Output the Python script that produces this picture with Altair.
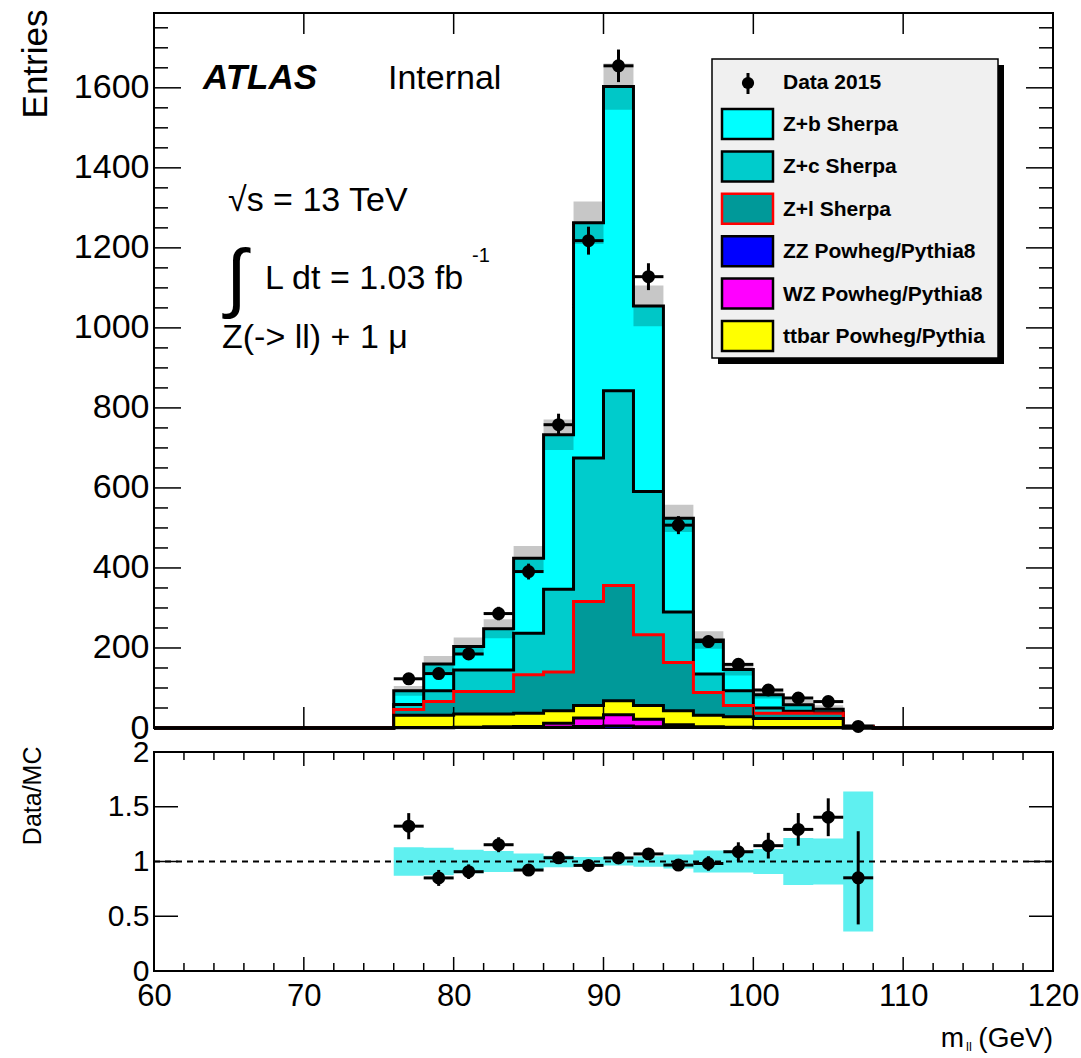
import math
import altair as alt
import pandas as pd

# ---------------- data ----------------
BIN_LO = [76, 78, 80, 82, 84, 86, 88, 90, 92, 94, 96, 98, 100, 102, 104, 106]
BIN_W = 2
ZZ    = [0.5, 0.5, 1, 1, 1.5, 2, 4, 5, 3, 2, 1, 1, 0.5, 0.5, 0.5, 0.1]
WZ    = [0.5, 0.5, 1, 2, 2.5, 10, 21, 28, 19, 6, 2, 1, 0.5, 0.5, 0.5, 0.1]
TTBAR = [31, 31, 33, 32, 33, 31, 31, 35, 34, 35, 29, 26, 23, 23, 23, 1.0]
ZL    = [14, 34, 56, 56, 96, 97, 260, 288, 177, 121, 57, 28, 13, 13, 13, 1.0]
ZC    = [13, 27, 54, 54, 104, 207, 359, 487, 358, 126, 46, 37, 13, 5, 1, 1.0]
ZB    = [34, 67, 59, 103, 187, 386, 588, 760, 464, 234, 85, 53, 33, 16, 9, 1.5]
DATA  = [123, 136, 185, 286, 391, 758, 1218, 1655, 1128, 507, 216, 159, 95, 75, 66, 4]
MC_REL_ERR = [0.13, 0.125, 0.108, 0.095, 0.073, 0.052, 0.042, 0.036, 0.048, 0.065,
              0.10, 0.10, 0.115, 0.215, 0.21, 0.64]

PROC_NAMES = ["Z+b Sherpa", "Z+c Sherpa", "Z+l Sherpa",
              "ZZ Powheg/Pythia8", "WZ Powheg/Pythia8", "ttbar Powheg/Pythia"]
PROC_VALUES = [ZB, ZC, ZL, ZZ, WZ, TTBAR]
PROC_FILL = ["#00ffff", "#00cccc", "#009999", "#0000ff", "#ff00ff", "#ffff00"]
PROC_LINE = ["#000000", "#000000", "#ff0000", "#000000", "#000000", "#000000"]
STACK_ORDER = ["ZZ Powheg/Pythia8", "WZ Powheg/Pythia8", "ttbar Powheg/Pythia",
               "Z+l Sherpa", "Z+c Sherpa", "Z+b Sherpa"]  # bottom -> top

Y_MAJOR = [0, 200, 400, 600, 800, 1000, 1200, 1400, 1600]
Y_MINOR = [v for v in range(0, 1751, 50) if v % 200]
X_MAJOR = [60, 70, 80, 90, 100, 110, 120]
X_MINOR = [v for v in range(60, 121, 2) if v % 10]
R_MAJOR = [0, 0.5, 1, 1.5, 2]

# ---------------- layout / style ----------------
W, HM, HR = 899, 715, 219
FONT = "Liberation Sans"
ONE = pd.DataFrame({"k": [0]})

EDGES = BIN_LO + [BIN_LO[-1] + BIN_W]
CENTERS = [b + BIN_W / 2 for b in BIN_LO]

xs = alt.Scale(domain=[60, 120], nice=False, zero=False)
ys = alt.Scale(domain=[0, 1787], nice=False, zero=False)
yrs = alt.Scale(domain=[0, 2], nice=False, zero=False)

yaxis = alt.Axis(values=Y_MAJOR, format="d", ticks=False, domain=False, grid=False,
                 labelFont=FONT, labelFontSize=34, labelPadding=5, labelColor="black",
                 labelFlush=False, labelOverlap=False, labelBound=False,
                 title="Entries", titleFont=FONT, titleFontSize=35, titleFontWeight="normal",
                 titleColor="black", titleAngle=270, titleAlign="right",
                 titleBaseline="middle", titleX=-119, titleY=-4)
ryaxis = alt.Axis(values=R_MAJOR, format="~g", ticks=False, domain=False, grid=False,
                  labelFont=FONT, labelFontSize=30, labelPadding=5, labelColor="black",
                  labelFlush=False, labelOverlap=False,
                  title="Data/MC", titleFont=FONT, titleFontSize=25, titleFontWeight="normal",
                  titleColor="black", titleAngle=270, titleAlign="right",
                  titleBaseline="middle", titleX=-122, titleY=-6)
rxaxis = alt.Axis(values=X_MAJOR, ticks=False, domain=False, grid=False,
                  labelFont=FONT, labelFontSize=31, labelPadding=10, labelColor="black",
                  labelFlush=False, labelOverlap=False, title=None)


def X(f):
    return alt.X(f, type="quantitative", scale=xs, axis=None)


def Y(f):
    return alt.Y(f, type="quantitative", scale=ys, axis=yaxis)


def XR(f):
    return alt.X(f, type="quantitative", scale=xs, axis=rxaxis)


def YR(f):
    return alt.Y(f, type="quantitative", scale=yrs, axis=ryaxis)


def text(s, x, y, size, font=FONT, weight="normal", style="normal", align="left",
         baseline="alphabetic"):
    return alt.Chart(ONE).mark_text(
        text=s, font=font, fontSize=size, fontWeight=weight, fontStyle=style,
        align=align, baseline=baseline, color="black"
    ).encode(x=alt.value(x), y=alt.value(y))


# ---------------- cumulative stack ----------------
vals = dict(zip(PROC_NAMES, PROC_VALUES))
fill = dict(zip(PROC_NAMES, PROC_FILL))
line = dict(zip(PROC_NAMES, PROC_LINE))
cums = {}
run = [0.0] * len(BIN_LO)
for name in STACK_ORDER:
    run = [a + b for a, b in zip(run, vals[name])]
    cums[name] = run
total = cums["Z+b Sherpa"]

main_layers = []
for name in reversed(STACK_ORDER):  # ROOT draws the top of the stack first
    c = cums[name]
    area_df = pd.DataFrame({"x": EDGES, "c": c + [c[-1]]})
    main_layers.append(
        alt.Chart(area_df).mark_area(interpolate="step-after", color=fill[name])
        .encode(x=X("x"), y=Y("c"), y2=alt.datum(0)))
    line_df = pd.DataFrame({"x": [60] + EDGES + [120], "c": [0] + c + [0, 0]})
    main_layers.append(
        alt.Chart(line_df).mark_line(interpolate="step-after", color=line[name],
                                     strokeWidth=3, strokeJoin="miter")
        .encode(x=X("x"), y=Y("c")))

# MC stat band (hatched in ROOT)
lo = [t * (1 - e) for t, e in zip(total, MC_REL_ERR)]
hi = [t * (1 + e) for t, e in zip(total, MC_REL_ERR)]
band_df = pd.DataFrame({"x": EDGES, "lo": lo + [lo[-1]], "hi": hi + [hi[-1]]})
main_layers.append(
    alt.Chart(band_df).mark_area(interpolate="step-after", color="#000000", opacity=0.22)
    .encode(x=X("x"), y=Y("lo"), y2="hi"))

# data points
pts = pd.DataFrame({
    "m": CENTERS, "n": DATA,
    "xl": [c - BIN_W / 2 for c in CENTERS], "xh": [c + BIN_W / 2 for c in CENTERS],
    "yl": [n - math.sqrt(n) for n in DATA], "yh": [n + math.sqrt(n) for n in DATA],
})
main_layers += [
    alt.Chart(pts).mark_rule(color="black", strokeWidth=3).encode(x=X("m"), y=Y("yl"), y2="yh"),
    alt.Chart(pts).mark_rule(color="black", strokeWidth=3).encode(x=X("xl"), x2="xh", y=Y("n")),
    alt.Chart(pts).mark_circle(color="black", opacity=1, size=170).encode(x=X("m"), y=Y("n")),
]

# frame ticks (inside, on all sides)
ymaj = pd.DataFrame({"v": Y_MAJOR})
ymin = pd.DataFrame({"v": Y_MINOR})
xmaj = pd.DataFrame({"v": X_MAJOR})
for df, ln in [(ymaj, 27), (ymin, 14)]:
    main_layers.append(alt.Chart(df).mark_rule(color="black", strokeWidth=1.5)
                       .encode(y=Y("v"), x=alt.value(0), x2=alt.value(ln)))
    main_layers.append(alt.Chart(df).mark_rule(color="black", strokeWidth=1.5)
                       .encode(y=Y("v"), x=alt.value(W - ln), x2=alt.value(W)))
main_layers.append(alt.Chart(xmaj).mark_rule(color="black", strokeWidth=1.5)
                   .encode(x=X("v"), y=alt.value(0), y2=alt.value(21)))
main_layers.append(alt.Chart(xmaj).mark_rule(color="black", strokeWidth=1.5)
                   .encode(x=X("v"), y=alt.value(HM - 21), y2=alt.value(HM)))

# annotations
main_layers += [
    text("ATLAS", 49, 76, 35, weight="bold", style="italic"),
    text("Internal", 234, 76, 34),
    text("\u221as = 13 TeV", 74, 198, 34),
    text("\u222b", 72, 290, 76),
    text("L dt = 1.03 fb", 111, 276, 34),
    text("-1", 318, 249, 20),
    text("Z(-> ll) + 1 \u03bc", 68, 335, 34),
]

# legend (drawn by hand like ROOT's TLegend)
LX0, LX1, LY0, LY1 = 558, 844, 46, 345
main_layers.append(alt.Chart(ONE).mark_rect(color="black").encode(
    x=alt.value(LX0 + 6), x2=alt.value(LX1 + 6), y=alt.value(LY0 + 6), y2=alt.value(LY1 + 6)))
main_layers.append(alt.Chart(ONE).mark_rect(fill="#f0f0f0", stroke="black", strokeWidth=1.5).encode(
    x=alt.value(LX0), x2=alt.value(LX1), y=alt.value(LY0), y2=alt.value(LY1)))
main_layers.append(alt.Chart(ONE).mark_rule(color="black", strokeWidth=3).encode(
    x=alt.value(594), y=alt.value(60), y2=alt.value(81)))
main_layers.append(alt.Chart(ONE).mark_circle(color="black", opacity=1, size=150).encode(
    x=alt.value(594), y=alt.value(70)))
main_layers.append(text("Data 2015", 629, 70, 21, weight="bold", baseline="middle"))
for i, name in enumerate(PROC_NAMES):
    y0 = 96 + i * 42.4
    main_layers.append(alt.Chart(ONE).mark_rect(fill=fill[name], stroke=line[name], strokeWidth=2.5)
                       .encode(x=alt.value(568), x2=alt.value(619), y=alt.value(y0), y2=alt.value(y0 + 30)))
    main_layers.append(text(name, 629, y0 + 16, 21, weight="bold", baseline="middle"))

main = alt.layer(*main_layers).properties(width=W, height=HM)

# ---------------- ratio panel ----------------
rband = pd.DataFrame({"x": EDGES,
                      "lo": [1 - e for e in MC_REL_ERR] + [1 - MC_REL_ERR[-1]],
                      "hi": [1 + e for e in MC_REL_ERR] + [1 + MC_REL_ERR[-1]]})
ratio = [n / t for n, t in zip(DATA, total)]
rerr = [math.sqrt(n) / t for n, t in zip(DATA, total)]
rpts = pd.DataFrame({
    "m": CENTERS, "r": ratio,
    "xl": [c - BIN_W / 2 for c in CENTERS], "xh": [c + BIN_W / 2 for c in CENTERS],
    "yl": [r - e for r, e in zip(ratio, rerr)], "yh": [r + e for r, e in zip(ratio, rerr)],
})
r_layers = [
    alt.Chart(rband).mark_area(interpolate="step-after", color="#5ff0f0")
    .encode(x=XR("x"), y=YR("lo"), y2="hi"),
    alt.Chart(ONE).mark_rule(color="black", strokeWidth=2, strokeDash=[6, 5])
    .encode(x=alt.value(0), x2=alt.value(W), y=alt.datum(1)),
    alt.Chart(rpts).mark_rule(color="black", strokeWidth=3).encode(x=XR("m"), y=YR("yl"), y2="yh"),
    alt.Chart(rpts).mark_rule(color="black", strokeWidth=3).encode(x=XR("xl"), x2="xh", y=YR("r")),
    alt.Chart(rpts).mark_circle(color="black", opacity=1, size=170).encode(x=XR("m"), y=YR("r")),
]
rmaj = pd.DataFrame({"v": R_MAJOR})
xmin = pd.DataFrame({"v": X_MINOR})
for side in ("l", "r"):
    a, b = (0, 24) if side == "l" else (W - 24, W)
    r_layers.append(alt.Chart(rmaj).mark_rule(color="black", strokeWidth=1.5)
                    .encode(y=YR("v"), x=alt.value(a), x2=alt.value(b)))
for df, ln in [(xmaj, 14), (xmin, 8)]:
    r_layers.append(alt.Chart(df).mark_rule(color="black", strokeWidth=1.5)
                    .encode(x=XR("v"), y=alt.value(0), y2=alt.value(ln)))
    r_layers.append(alt.Chart(df).mark_rule(color="black", strokeWidth=1.5)
                    .encode(x=XR("v"), y=alt.value(HR - ln), y2=alt.value(HR)))
r_layers += [
    text("(GeV)", W, 295, 28, align="right"),
    text("ll", 812, 299, 13),
    text("m", 810, 295, 28, align="right"),
]
ratio_panel = alt.layer(*r_layers).properties(width=W, height=HR)

chart = alt.vconcat(main, ratio_panel, spacing=24, bounds="flush").properties(
    padding={"left": 17, "top": 8, "right": 0, "bottom": 0},
    background="white",
).configure_view(stroke="black", strokeWidth=2)

chart.save("out.html", embed_options={"renderer": "svg", "actions": False})
